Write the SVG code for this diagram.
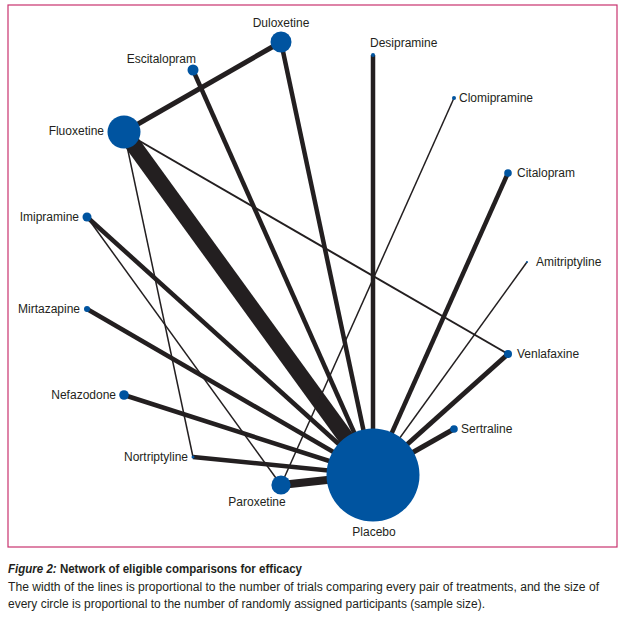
<svg xmlns="http://www.w3.org/2000/svg" width="627" height="619" viewBox="0 0 627 619">
<style>
.lbl{font-family:"Liberation Sans","DejaVu Sans",sans-serif;font-size:12px;fill:#231f20}
.e{stroke:#231f20;fill:none;stroke-linecap:butt}
.n{fill:#0054a0}
.cap{font-family:"Liberation Sans","DejaVu Sans",sans-serif;font-size:12.5px;fill:#231f20}
</style>
<rect x="8" y="5" width="609" height="542" fill="#fff" stroke="#c8336e" stroke-width="1.2"/>
<g id="connectors">
<line class="e" x1="124" y1="132" x2="373" y2="475" stroke-width="16"/>
<line class="e" x1="124" y1="132" x2="281" y2="42" stroke-width="5"/>
<line class="e" x1="124" y1="132" x2="508" y2="354" stroke-width="2"/>
<line class="e" x1="124" y1="132" x2="193" y2="457" stroke-width="1.5"/>
<line class="e" x1="193" y1="70" x2="373" y2="475" stroke-width="4.5"/>
<line class="e" x1="281" y1="42" x2="373" y2="475" stroke-width="4.5"/>
<line class="e" x1="373" y1="55" x2="373" y2="475" stroke-width="4.5"/>
<line class="e" x1="454" y1="98" x2="281" y2="485" stroke-width="1.5"/>
<line class="e" x1="508" y1="173" x2="373" y2="475" stroke-width="4.5"/>
<line class="e" x1="527" y1="262" x2="373" y2="475" stroke-width="1.5"/>
<line class="e" x1="87" y1="217" x2="373" y2="475" stroke-width="4.5"/>
<line class="e" x1="87" y1="217" x2="281" y2="485" stroke-width="1.5"/>
<line class="e" x1="87" y1="309" x2="373" y2="475" stroke-width="4.5"/>
<line class="e" x1="124" y1="395" x2="373" y2="475" stroke-width="4.5"/>
<line class="e" x1="193" y1="457" x2="373" y2="475" stroke-width="4.5"/>
<line class="e" x1="281" y1="485" x2="373" y2="475" stroke-width="8"/>
<line class="e" x1="508" y1="354" x2="373" y2="475" stroke-width="5"/>
<line class="e" x1="454" y1="429" x2="373" y2="475" stroke-width="5"/>
</g>
<g id="duloxetine"><circle class="n" cx="281" cy="42" r="10.5"/><text class="lbl" x="281" y="27" text-anchor="middle">Duloxetine</text></g>
<g id="escitalopram"><circle class="n" cx="193" cy="70" r="5.5"/><text class="lbl" x="196" y="63" text-anchor="end">Escitalopram</text></g>
<g id="fluoxetine"><circle class="n" cx="124" cy="132" r="16.5"/><text class="lbl" x="104" y="135" text-anchor="end">Fluoxetine</text></g>
<g id="desipramine"><circle class="n" cx="373" cy="55" r="2"/><text class="lbl" x="370" y="47">Desipramine</text></g>
<g id="clomipramine"><circle class="n" cx="454" cy="98" r="2"/><text class="lbl" x="459" y="102">Clomipramine</text></g>
<g id="citalopram"><circle class="n" cx="508" cy="173" r="3.8"/><text class="lbl" x="517" y="177">Citalopram</text></g>
<g id="amitriptyline"><circle class="n" cx="527" cy="262" r="1"/><text class="lbl" x="536" y="266">Amitriptyline</text></g>
<g id="imipramine"><circle class="n" cx="87" cy="217" r="4.5"/><text class="lbl" x="79" y="221" text-anchor="end">Imipramine</text></g>
<g id="mirtazapine"><circle class="n" cx="87" cy="309" r="3"/><text class="lbl" x="80" y="313" text-anchor="end">Mirtazapine</text></g>
<g id="venlafaxine"><circle class="n" cx="508" cy="354" r="4"/><text class="lbl" x="517" y="358">Venlafaxine</text></g>
<g id="nefazodone"><circle class="n" cx="124" cy="395" r="4.8"/><text class="lbl" x="116" y="399" text-anchor="end">Nefazodone</text></g>
<g id="sertraline"><circle class="n" cx="454" cy="429" r="3.8"/><text class="lbl" x="461" y="433">Sertraline</text></g>
<g id="nortriptyline"><circle class="n" cx="193" cy="457" r="1.5"/><text class="lbl" x="188" y="461" text-anchor="end">Nortriptyline</text></g>
<g id="paroxetine"><circle class="n" cx="281" cy="485" r="9.6"/><text class="lbl" x="257" y="506" text-anchor="middle">Paroxetine</text></g>
<g id="placebo"><circle class="n" cx="373" cy="475" r="46.5"/><text class="lbl" x="374" y="536" text-anchor="middle">Placebo</text></g>
<g id="caption">
<text class="cap" x="8" y="573" font-weight="bold" textLength="294" lengthAdjust="spacingAndGlyphs"><tspan font-style="italic">Figure 2:</tspan> Network of eligible comparisons for efficacy</text>
<text class="cap" x="8" y="591" textLength="591" lengthAdjust="spacingAndGlyphs">The width of the lines is proportional to the number of trials comparing every pair of treatments, and the size of</text>
<text class="cap" x="8" y="608" textLength="477" lengthAdjust="spacingAndGlyphs">every circle is proportional to the number of randomly assigned participants (sample size).</text>
</g>
</svg>
